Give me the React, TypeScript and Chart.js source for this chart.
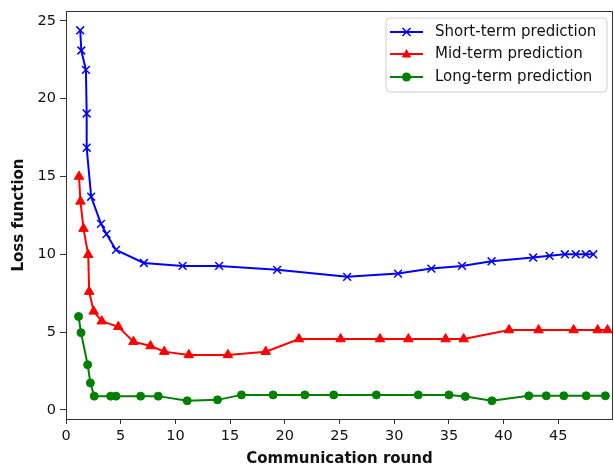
import React, { useEffect, useRef } from 'react';
import { Chart, registerables } from 'chart.js';

Chart.register(...registerables);

const seriesNames = ['Short-term prediction', 'Mid-term prediction', 'Long-term prediction'];

const shortX = [1.3, 1.4, 1.82, 1.89, 1.89, 2.3, 3.2, 3.7, 4.57, 7.12, 10.66, 14.0, 19.3, 25.7, 30.35, 33.4, 36.2, 38.9, 42.7, 44.2, 45.6, 46.6, 47.5, 48.2];
const shortY = [24.4, 23.1, 21.85, 19.05, 16.85, 13.7, 11.95, 11.3, 10.28, 9.44, 9.25, 9.25, 9.0, 8.55, 8.76, 9.08, 9.25, 9.55, 9.79, 9.9, 10.0, 10.0, 10.0, 10.0];

const midX = [1.19, 1.32, 1.6, 2.03, 2.12, 2.53, 3.27, 4.78, 6.17, 7.73, 8.98, 11.23, 14.8, 18.26, 21.3, 25.1, 28.7, 31.3, 34.7, 36.35, 40.5, 43.2, 46.4, 48.6, 49.5];
const midY = [15.0, 13.4, 11.65, 9.97, 7.6, 6.33, 5.7, 5.34, 4.38, 4.1, 3.74, 3.53, 3.53, 3.74, 4.55, 4.55, 4.55, 4.55, 4.55, 4.55, 5.13, 5.13, 5.13, 5.13, 5.13];

const longX = [1.15, 1.37, 1.98, 2.23, 2.58, 4.08, 4.57, 6.82, 8.43, 11.08, 13.85, 16.04, 18.93, 21.83, 24.47, 28.37, 32.2, 35.0, 36.5, 38.93, 42.3, 43.9, 45.5, 47.55, 49.3];
const longY = [6.0, 4.96, 2.9, 1.73, 0.88, 0.88, 0.88, 0.88, 0.88, 0.58, 0.64, 0.96, 0.96, 0.96, 0.96, 0.96, 0.96, 0.96, 0.86, 0.58, 0.9, 0.9, 0.9, 0.9, 0.9];

const xTicks = [0, 5, 10, 15, 20, 25, 30, 35, 40, 45];
const yTicks = [0, 5, 10, 15, 20, 25];

const colors = ['#0000ff', '#ff0000', '#008000'];
const FONT = "'DejaVu Sans', sans-serif";
const TEXT = '#111111';

function drawMarker(ctx: CanvasRenderingContext2D, kind: number, x: number, y: number, color: string) {
  ctx.save();
  ctx.strokeStyle = color;
  ctx.fillStyle = color;
  if (kind === 0) {
    const d = 4;
    ctx.lineWidth = 1.5;
    ctx.beginPath();
    ctx.moveTo(x - d, y - d);
    ctx.lineTo(x + d, y + d);
    ctx.moveTo(x - d, y + d);
    ctx.lineTo(x + d, y - d);
    ctx.stroke();
  } else if (kind === 1) {
    ctx.beginPath();
    ctx.moveTo(x, y - 5);
    ctx.lineTo(x + 4.7, y + 3.5);
    ctx.lineTo(x - 4.7, y + 3.5);
    ctx.closePath();
    ctx.fill();
  } else {
    ctx.beginPath();
    ctx.arc(x, y, 4.5, 0, Math.PI * 2);
    ctx.fill();
  }
  ctx.restore();
}

const framePlugin = {
  id: 'frameAndLegend',
  afterDraw(chart: any) {
    const { ctx, chartArea } = chart;
    const { left, top, right, bottom } = chartArea;
    ctx.save();
    ctx.strokeStyle = '#333333';
    ctx.lineWidth = 1;
    ctx.strokeRect(Math.round(left) + 0.5, Math.round(top) + 0.5, Math.round(right - left) - 1, Math.round(bottom - top));
    // legend
    const bw = 221;
    const bh = 74;
    const bx = right - 6 - bw;
    const by = top + 7;
    ctx.beginPath();
    const r = 4;
    ctx.moveTo(bx + r, by);
    ctx.lineTo(bx + bw - r, by);
    ctx.quadraticCurveTo(bx + bw, by, bx + bw, by + r);
    ctx.lineTo(bx + bw, by + bh - r);
    ctx.quadraticCurveTo(bx + bw, by + bh, bx + bw - r, by + bh);
    ctx.lineTo(bx + r, by + bh);
    ctx.quadraticCurveTo(bx, by + bh, bx, by + bh - r);
    ctx.lineTo(bx, by + r);
    ctx.quadraticCurveTo(bx, by, bx + r, by);
    ctx.closePath();
    ctx.fillStyle = 'rgba(255,255,255,0.8)';
    ctx.fill();
    ctx.strokeStyle = '#d0d0d0';
    ctx.lineWidth = 1;
    ctx.stroke();
    const rows = [14, 36, 59];
    ctx.font = `15px ${FONT}`;
    ctx.textBaseline = 'middle';
    ctx.textAlign = 'left';
    seriesNames.forEach((name, i) => {
      const yy = by + rows[i];
      ctx.strokeStyle = colors[i];
      ctx.lineWidth = 2;
      ctx.beginPath();
      ctx.moveTo(bx + 4, yy);
      ctx.lineTo(bx + 37, yy);
      ctx.stroke();
      drawMarker(ctx, i, bx + 20.5, yy, colors[i]);
      ctx.fillStyle = TEXT;
      ctx.fillText(name, bx + 49, yy);
    });
    ctx.restore();
  },
};

export default function App() {
  const ref = useRef<HTMLCanvasElement>(null);
  useEffect(() => {
    const pts = (xs: number[], ys: number[]) => xs.map((x, i) => ({ x, y: ys[i] }));
    const styles = [
      { pointStyle: 'crossRot', pointRadius: 5.5, pointBorderWidth: 1.5 },
      { pointStyle: 'triangle', pointRadius: 5.5, pointBorderWidth: 1 },
      { pointStyle: 'circle', pointRadius: 4, pointBorderWidth: 1 },
    ];
    const data = [pts(shortX, shortY), pts(midX, midY), pts(longX, longY)];
    const chart = new Chart(ref.current as HTMLCanvasElement, {
      type: 'line',
      data: {
        datasets: seriesNames.map((label, i) => ({
          label,
          data: data[i],
          borderColor: colors[i],
          backgroundColor: colors[i],
          pointBackgroundColor: colors[i],
          pointBorderColor: colors[i],
          borderWidth: 2,
          tension: 0,
          fill: false,
          ...styles[i],
        })) as any,
      },
      options: {
        responsive: false,
        animation: false,
        layout: { autoPadding: false, padding: { top: 11, right: 1, left: 0, bottom: 0 } },
        plugins: { legend: { display: false }, tooltip: { enabled: false } },
        scales: {
          x: {
            type: 'linear',
            min: 0,
            max: 50,
            afterBuildTicks: (s: any) => {
              s.ticks = xTicks.map((v) => ({ value: v }));
            },
            afterFit: (s: any) => {
              s.height = 49;
              s.paddingLeft = 0;
              s.paddingRight = 0;
            },
            grid: { drawOnChartArea: false, drawTicks: true, tickLength: 5, color: '#333333', lineWidth: 1 },
            border: { display: false },
            ticks: { font: { family: FONT, size: 14.5 }, color: TEXT, padding: 4, maxRotation: 0 },
            title: { display: true, text: 'Communication round', font: { family: FONT, size: 15, weight: 'bold' }, color: TEXT, padding: { top: 0, bottom: 0 } },
          },
          y: {
            type: 'linear',
            min: -0.59,
            max: 25.64,
            afterBuildTicks: (s: any) => {
              s.ticks = yTicks.map((v) => ({ value: v }));
            },
            afterFit: (s: any) => {
              s.width = 66;
              s.paddingTop = 0;
              s.paddingBottom = 0;
            },
            grid: { drawOnChartArea: false, drawTicks: true, tickLength: 6, color: '#333333', lineWidth: 1 },
            border: { display: false },
            ticks: { font: { family: FONT, size: 14.5 }, color: TEXT, padding: 4 },
            title: { display: true, text: 'Loss function', font: { family: FONT, size: 15, weight: 'bold' }, color: TEXT, padding: { top: 10.5, bottom: 0 } },
          },
        },
      } as any,
      plugins: [framePlugin],
    });
    return () => chart.destroy();
  }, []);
  return (
    <div style={{ position: 'absolute', left: 0, top: 0, width: 614, height: 468, background: '#ffffff' }}>
      <canvas ref={ref} width={614} height={468} style={{ width: 614, height: 468, display: 'block' }} />
    </div>
  );
}
